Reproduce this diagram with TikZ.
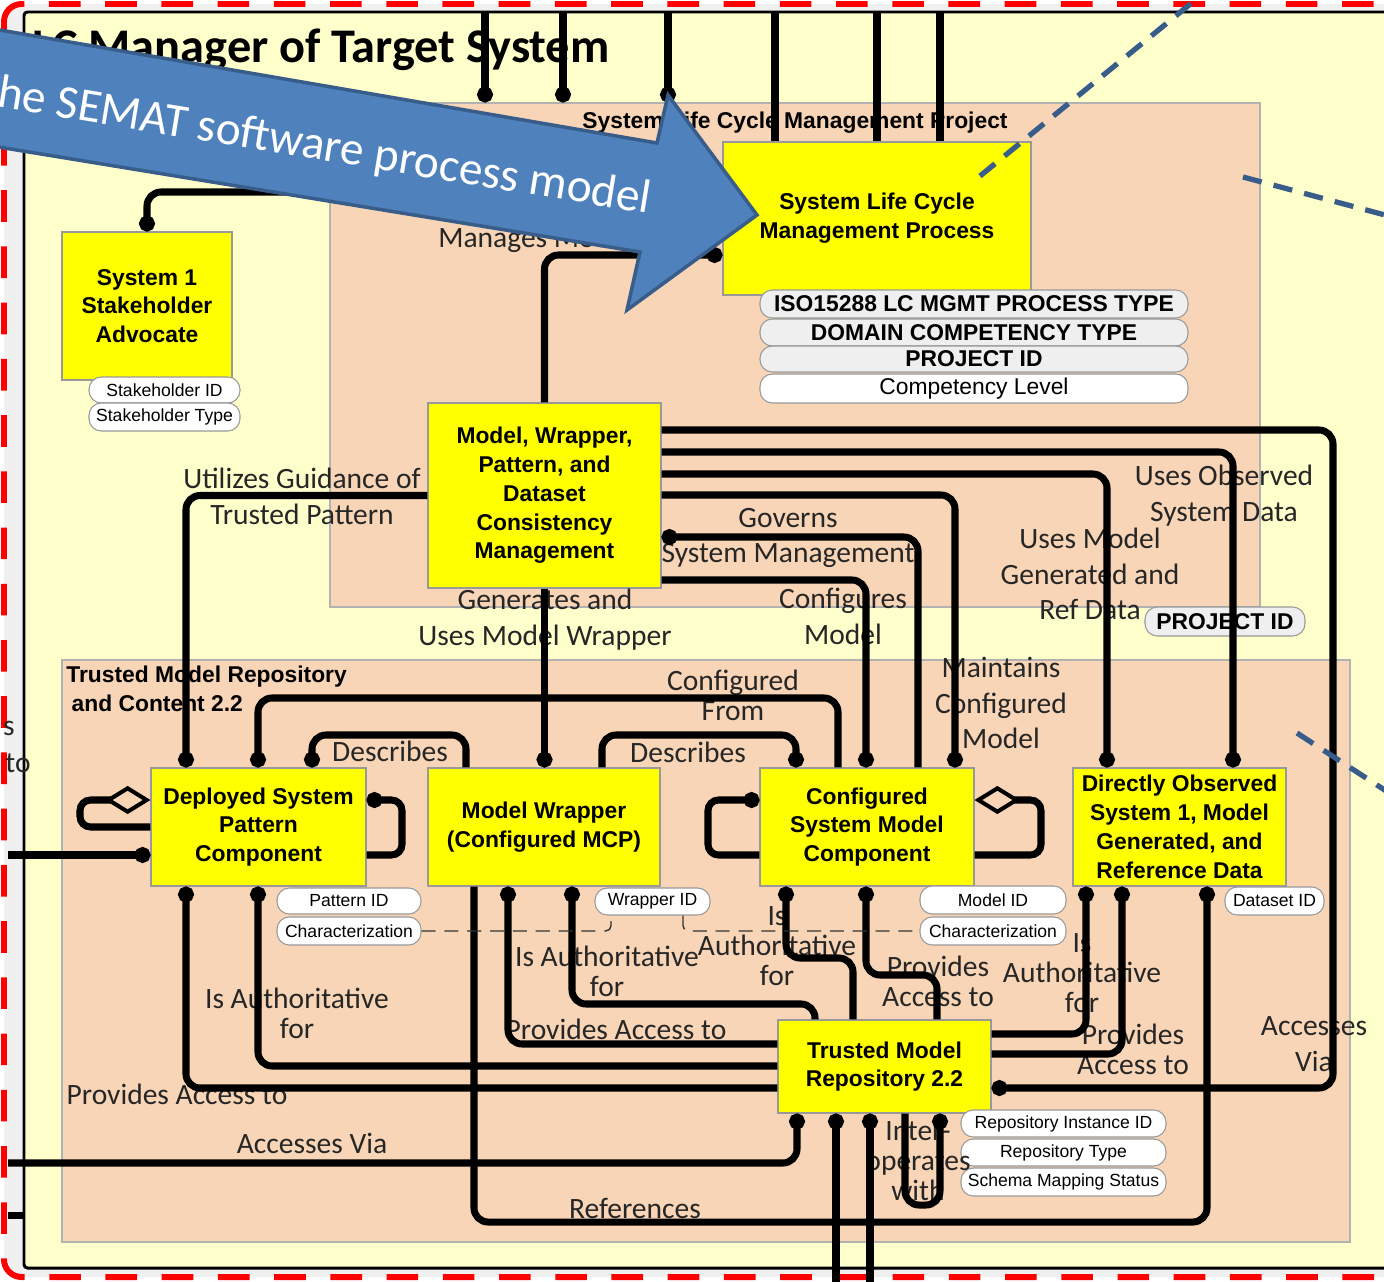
\documentclass[tikz,border=0pt]{standalone}
\usepackage{fontspec}
\newfontfamily\arialfont{Liberation Sans}
\newfontfamily\calfont{Carlito}
\usepackage{tikz}
\usetikzlibrary{positioning,arrows.meta,calc}
\definecolor{peach}{HTML}{F8D5B6}
\definecolor{paleyellow}{HTML}{FFFFCC}
\definecolor{boxyellow}{HTML}{FFFF00}
\definecolor{pillgray}{HTML}{EFEFEF}
\definecolor{framegray}{HTML}{F0F0F0}
\definecolor{dashred}{HTML}{FF0000}
\definecolor{semblue}{HTML}{4F81BD}
\definecolor{semedge}{HTML}{385D8A}
\newdimen\pxu \pxu=0.02cm

\begin{document}
\begin{tikzpicture}[
  x=0.02cm, y=-0.02cm,
  sz/.style 2 args={minimum width=#1\pxu, minimum height=#2\pxu},
  entity/.style={draw=black!40, line width=0.6pt, fill=boxyellow, inner sep=0pt, align=center, font=\arialfont\bfseries\fontsize{13}{16.4}\selectfont},
  group/.style={draw=black!30, line width=0.6pt, fill=peach, inner sep=0pt},
  pill/.style={draw=black!40, line width=0.6pt, fill=white, rounded corners=7pt, inner sep=0pt, font=\arialfont\fontsize{10}{12}\selectfont},
  bigpill/.style={pill, fill=pillgray, font=\arialfont\bfseries\fontsize{13}{15}\selectfont},
  rel/.style={align=center, inner sep=0pt, text=black!85, font=\calfont\fontsize{16.8}{20.4}\selectfont},
  tight/.style={rel, font=\calfont\fontsize{16.8}{17}\selectfont},
  wire/.style={line width=4pt, rounded corners=8pt},
  loopwire/.style={wire, rounded corners=6pt},
  dotstart/.style={{Circle[length=9pt,width=9pt]}-},
  dotend/.style={-{Circle[length=9pt,width=9pt]}},
  agg/.style={{Diamond[open,length=26pt,width=16pt,line width=2.3pt]}-},
  attrlink/.style={draw=black!80, line width=0.8pt, dash pattern=on 8pt off 5pt, rounded corners=3pt},
  callout/.style={draw=semedge, line width=3pt, dash pattern=on 11pt off 7pt}
]
  \useasboundingbox (0,0) rectangle (1384,1282);

  % Outer frame
  \filldraw[fill=framegray, draw=dashred, line width=3.4pt, dash pattern=on 18pt off 14pt, rounded corners=10pt] (4,4) rectangle (1460,1277);
  \node[draw=black, line width=1.7pt, fill=paleyellow, rounded corners=2pt, inner sep=0pt, sz={1396}{1256}] (lcm) at (722,640) {};
  \node[anchor=base west, inner sep=0pt, font=\calfont\bfseries\fontsize{27.5}{30}\selectfont] (title) at (32,62) {LC Manager of Target System};

  % Groups
  \node[group, sz={930}{504}] (proj) at (795,355) {};
  \node[anchor=base, inner sep=0pt, font=\arialfont\bfseries\fontsize{13}{16}\selectfont] (projlbl) at (795,128) {System Life Cycle Management Project};
  \node[group, sz={1288}{582}] (repo) at (706,951) {};
  \node[anchor=north west, align=left, inner sep=0pt, font=\arialfont\bfseries\fontsize{13}{16.4}\selectfont] (repolbl) at (66,666) {Trusted Model Repository\\\hspace{3pt}and Content 2.2};

  % Entities
  \node[entity, sz={308}{153}] (slcmp) at (877,218.5) {System Life Cycle\\Management Process};
  \node[entity, sz={170}{148}] (stake) at (147,306) {System 1\\Stakeholder\\Advocate};
  \node[entity, sz={233}{185}] (mwp) at (544.5,495.5) {Model, Wrapper,\\Pattern, and\\Dataset\\Consistency\\Management};
  \node[entity, sz={215}{118}] (dspc) at (258.5,827) {Deployed System\\Pattern\\Component};
  \node[entity, sz={232}{118}] (mwc) at (544,827) {Model Wrapper\\(Configured MCP)};
  \node[entity, sz={214}{118}] (csmc) at (867,827) {Configured\\System Model\\Component};
  \node[entity, sz={213}{118}] (dosd) at (1179.5,827) {Directly Observed\\System 1, Model\\Generated, and\\Reference Data};
  \node[entity, sz={213}{93}] (tmr) at (884.5,1066.5) {Trusted Model\\Repository 2.2};

  % Attributes
  \node[bigpill, sz={428}{28}] (isotype) at (974,304) {ISO15288 LC MGMT PROCESS TYPE};
  \node[bigpill, sz={428}{27}] (domtype) at (974,332.5) {DOMAIN COMPETENCY TYPE};
  \node[bigpill, sz={428}{26}] (projid) at (974,359) {PROJECT ID};
  \node[pill, sz={428}{29}, font=\arialfont\fontsize{13}{15}\selectfont] (complvl) at (974,388.5) {Competency Level};
  \node[pill, sz={151}{26}] (stakeid) at (164.5,390) {Stakeholder ID};
  \node[pill, sz={151}{28}] (staketype) at (164.5,417) {Stakeholder Type};
  \node[bigpill, sz={160}{29}] (projid2) at (1225,621.5) {PROJECT ID};
  \node[pill, sz={144}{26}] (patid) at (349,901) {Pattern ID};
  \node[pill, sz={144}{28}] (patchar) at (349,931) {Characterization};
  \node[pill, sz={115}{27}] (wrapid) at (652.5,901.5) {Wrapper ID};
  \node[pill, sz={146}{28}] (modid) at (993,900) {Model ID};
  \node[pill, sz={146}{28}] (modchar) at (993,931) {Characterization};
  \node[pill, sz={99}{28}] (dataid) at (1274.5,901) {Dataset ID};
  \node[pill, sz={205}{27}] (repoinst) at (1063.5,1123.5) {Repository Instance ID};
  \node[pill, sz={205}{27}] (repotype) at (1063.5,1152.5) {Repository Type};
  \node[pill, sz={205}{28}] (schema) at (1063.5,1182) {Schema Mapping Status};

  % Relation labels
  \node[rel, anchor=west] (lblmanage) at (438,240) {Manages Model};
  \node[rel] (lblutil) at (302,496) {Utilizes Guidance of\\Trusted Pattern};
  \node[rel] (lblgov) at (788,538) {Governs\\System Management};
  \node[rel] (lblgen) at (545,620) {Generates and\\Uses Model Wrapper};
  \node[rel] (lblconf) at (843,616) {Configures\\Model};
  \node[rel] (lblref) at (1090,574) {Uses Model\\Generated and\\Ref Data};
  \node[rel] (lblobs) at (1224,496) {Uses Observed\\System Data};
  \node[rel] (lblmaint) at (1001,703) {Maintains\\Configured\\Model};
  \node[tight] (lblfrom) at (733,695) {Configured\\From};
  \node[rel] (lbldesc1) at (390,751) {Describes};
  \node[rel] (lbldesc2) at (688,752) {Describes};
  \node[tight] (lblauth1) at (297,1013) {Is Authoritative\\for};
  \node[rel] (lblprov1) at (177,1094) {Provides Access to};
  \node[rel] (lblacc1) at (312,1143) {Accesses Via};
  \node[tight] (lblauth2) at (607,971) {Is Authoritative\\for};
  \node[rel] (lblprov2) at (616,1029) {Provides Access to};
  \node[rel] (lblrefs) at (635,1208) {References};
  \node[tight] (lblauth3) at (777,946) {Is\\Authoritative\\for};
  \node[tight] (lblprov3) at (938,981) {Provides\\Access to};
  \node[tight] (lblauth4) at (1082,973) {Is\\Authoritative\\for};
  \node[tight] (lblprov4) at (1133,1049) {Provides\\Access to};
  \node[rel] (lblacc2) at (1314,1044) {Accesses\\Via};
  \node[tight] (lblinter) at (918,1161) {Inter-\\operates\\with};
  \node[rel, anchor=east] (lblcut1) at (15,728) {s};
  \node[rel, anchor=east] (lblcut2) at (31,763) {to};

  % Free ends
  \coordinate (leftin) at (8,855);
  \coordinate (accin) at (8,1163);
  \coordinate (stubin) at (8,1215);
  \coordinate (downA) at (836,1290);
  \coordinate (downB) at (870,1290);

  % Top feeds
  \foreach \xx in {485,563,668}
    \draw[wire, dotend] (lcm.north -| \xx,0) -- (proj.north -| \xx,0);
  \foreach \xx in {775,877,940}
    \draw[wire] (lcm.north -| \xx,0) -- (slcmp.north -| \xx,0);
  \draw[wire, dotstart] (stake.north) |- (slcmp.west |- 0,192);
  \draw[wire, dotend] (mwp.north) |- (slcmp.west |- 0,255);

  % From consistency management
  \draw[wire, dotend] (mwp.east |- 0,430) -| (1333,1088) -- (tmr.east |- 0,1088);
  \draw[wire, dotend] (mwp.east |- 0,452) -| (dosd.north -| 1233,0);
  \draw[wire, dotend] (mwp.east |- 0,474) -| (dosd.north -| 1107,0);
  \draw[wire, dotend] (mwp.east |- 0,495) -| (csmc.north -| 955,0);
  \draw[wire, dotstart] (mwp.east |- 0,537) -| (csmc.north -| 918,0);
  \draw[wire, dotend] (mwp.east |- 0,580) -| (csmc.north -| 866,0);
  \draw[wire, dotend] (mwp.south) -- (mwp.south |- mwc.north);
  \draw[wire, dotend] (mwp.west) -| (dspc.north -| 186,0);

  % Repository links
  \draw[wire, dotstart] (dspc.north -| 258,0) |- (838,698) -- (csmc.north -| 838,0);
  \draw[wire, dotstart] (dspc.north -| 312,0) |- (466,735) -- (mwc.north -| 466,0);
  \draw[wire, dotend] (mwc.north -| 602,0) |- (796,735) -- (csmc.north -| 796,0);
  \draw[loopwire, agg] (dspc.west |- 0,800) -- (80,800) -- (80,827) -- (dspc.west |- 0,827);
  \draw[loopwire, dotstart] (dspc.east |- 0,800) -- (402,800) -- (402,855) -- (dspc.east |- 0,855);
  \draw[loopwire, dotstart] (csmc.west |- 0,800) -- (708,800) -- (708,855) -- (csmc.west |- 0,855);
  \draw[loopwire, agg] (csmc.east |- 0,800) -- (1041,800) -- (1041,855) -- (csmc.east |- 0,855);
  \draw[wire, dotend] (leftin) -- (dspc.west |- leftin);
  \draw[wire, dotend] (accin) -| (tmr.south -| 797,0);
  \draw[wire] (stubin) -- (lcm.west |- stubin);
  \draw[wire, dotstart] (dspc.south -| 186,0) |- (tmr.west |- 0,1088);
  \draw[wire, dotstart] (dspc.south -| 258,0) |- (tmr.west |- 0,1066);
  \draw[wire, dotend] (mwc.south -| 474,0) |- (1207,1222) -- (dosd.south -| 1207,0);
  \draw[wire, dotstart] (mwc.south -| 508,0) |- (tmr.west |- 0,1044);
  \draw[wire, dotstart] (mwc.south -| 572,0) |- (815,1004) -- (tmr.north -| 815,0);
  \draw[wire, dotstart] (csmc.south -| 786,0) |- (853,958) -- (tmr.north -| 853,0);
  \draw[wire, dotstart] (csmc.south -| 866,0) |- (937,975) -- (tmr.north -| 937,0);
  \draw[wire, dotstart] (dosd.south -| 1086,0) |- (tmr.east |- 0,1034);
  \draw[wire, dotstart] (dosd.south -| 1122,0) |- (tmr.east |- 0,1054);
  \draw[wire, dotstart] (tmr.south -| 836,0) -- (downA);
  \draw[wire, dotstart] (tmr.south -| 870,0) -- (downB);
  \draw[wire, dotend] (tmr.south -| 905,0) -- (905,1205) -- (940,1205) -- (tmr.south -| 940,0);

  % Attribute links
  \draw[attrlink] (patchar.east) -- (611,931) -- (wrapid.south -| 611,0);
  \draw[attrlink] (wrapid.south -| 683,0) -- (683,931) -- (modchar.west);

  % Callout edges
  \draw[callout] (980,176) -- (1205,-8);
  \draw[callout] (1243,177) -- (1400,219);
  \draw[callout] (1297,733) -- (1400,800);

  % SEMAT arrow
  \filldraw[fill=semblue, draw=semedge, line width=2pt, line join=miter] (-20,26.6) -- (657,143) -- (668,95) -- (757,215) -- (627,310) -- (640,252) -- (-20,144) -- cycle;
  \node[rotate=-9.3, anchor=base west, inner sep=0pt, text=white, font=\calfont\fontsize{27}{30}\selectfont] (semat) at (-27,103) {The SEMAT software process model};
\end{tikzpicture}
\end{document}
